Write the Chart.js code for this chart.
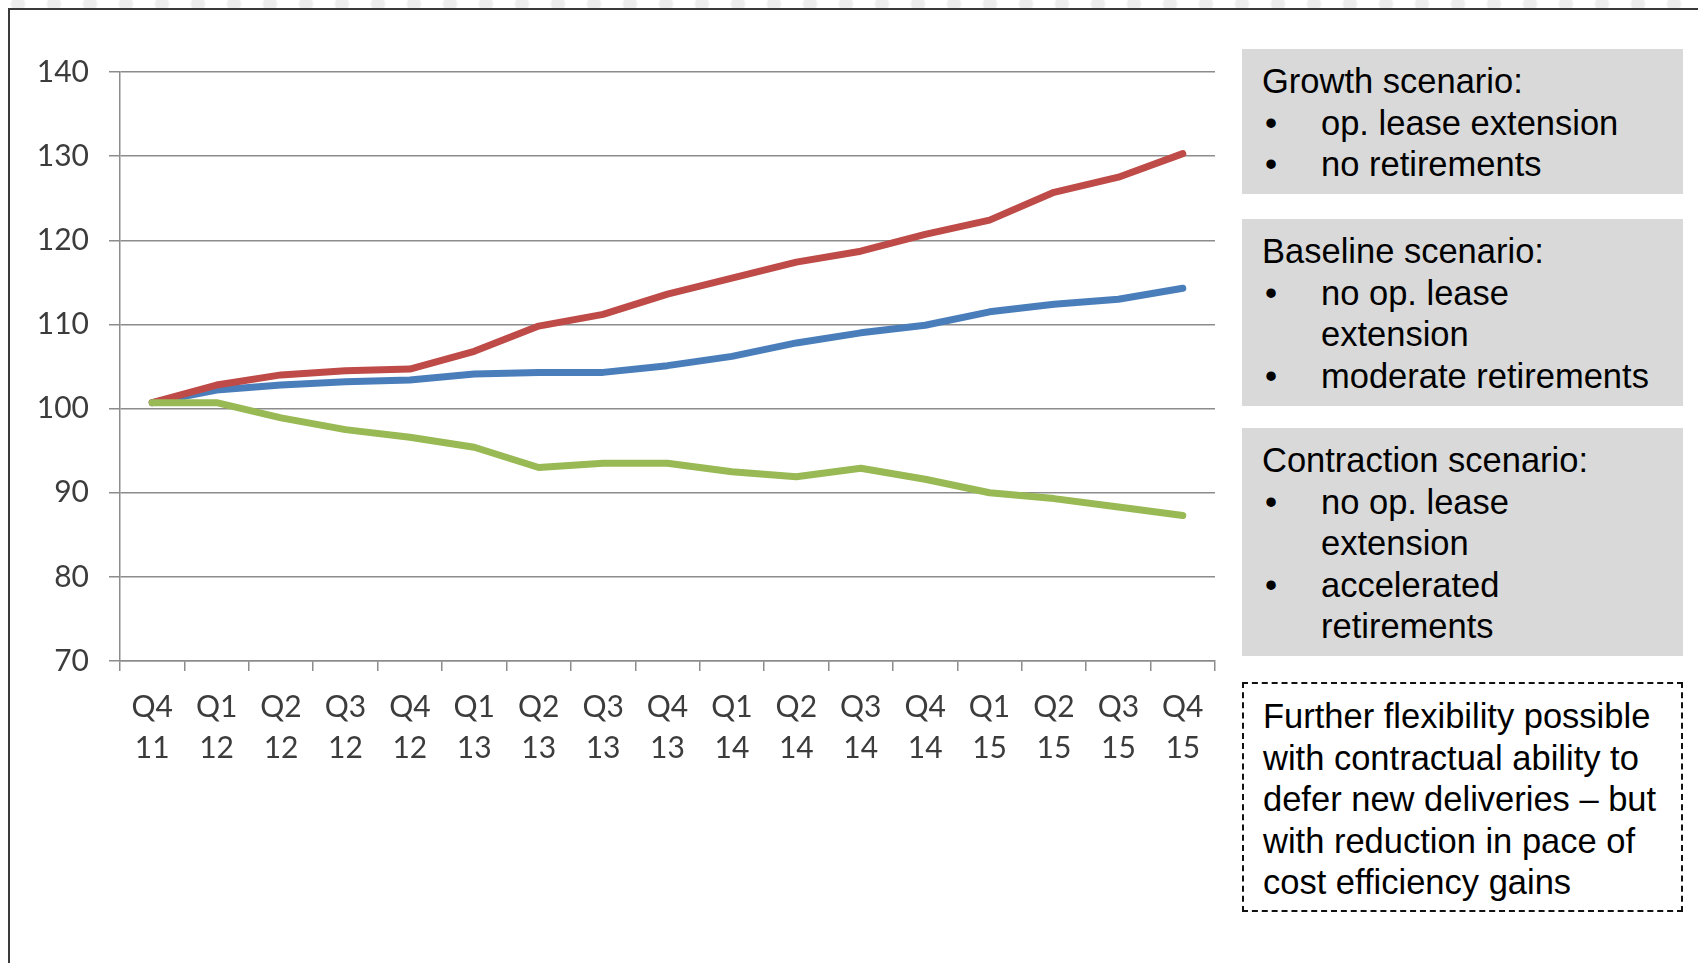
<!DOCTYPE html>
<html>
<head>
<meta charset="utf-8">
<script src="https://cdn.jsdelivr.net/npm/chart.js@4.4.1/dist/chart.umd.min.js"></script>
<style>
  html, body { margin: 0; padding: 0; }
  body {
    width: 1698px; height: 963px; position: relative; overflow: hidden;
    background-color: #fff;
    background-image: radial-gradient(circle at 50% 50%, #ededed 0, #ededed 6px, rgba(255,255,255,0) 8px);
    background-size: 36px 36px;
    background-position: 0 -14px;
    font-family: "Liberation Sans", Arial, sans-serif;
  }
  #frame {
    position: absolute; left: 8px; top: 8px; right: -10px; bottom: -10px;
    border-left: 2px solid #3a3a3a; border-top: 2px solid #3a3a3a;
    background: #fff;
  }
  #chartWrap { position: absolute; left: 0; top: 0; width: 1240px; height: 800px; }
  .box {
    position: absolute; left: 1242px; width: 441px; box-sizing: border-box;
    background: #d9d9d9; color: #000;
    font-size: 34.5px; line-height: 41.5px;
    padding: 12px 26px 0 20px;
  }
  .box .li { position: relative; padding-left: 59px; }
  .box .li::before { content: "\2022"; position: absolute; left: 3px; top: 0; }
  #note {
    position: absolute; left: 1242px; top: 682px; width: 441px; height: 230px;
    box-sizing: border-box; border: 2px dashed #111; background: #fff;
    font-size: 34.5px; line-height: 41.5px; padding: 12px 0 0 19px; color: #000;
  }
</style>
</head>
<body>
<div id="frame"></div>
<div id="chartWrap"><canvas id="c"></canvas></div>

<div class="box" style="top:49px;height:145px;">
  <div>Growth scenario:</div>
  <div class="li">op. lease extension</div>
  <div class="li">no retirements</div>
</div>
<div class="box" style="top:219px;height:187px;">
  <div>Baseline scenario:</div>
  <div class="li">no op. lease extension</div>
  <div class="li">moderate retirements</div>
</div>
<div class="box" style="top:428px;height:228px;">
  <div>Contraction scenario:</div>
  <div class="li">no op. lease extension</div>
  <div class="li">accelerated retirements</div>
</div>
<div id="note">Further flexibility possible with contractual ability to defer new deliveries – but with reduction in pace of cost efficiency gains</div>

<script>
// ---- data ----
const quarters = ["Q4","Q1","Q2","Q3","Q4","Q1","Q2","Q3","Q4","Q1","Q2","Q3","Q4","Q1","Q2","Q3","Q4"];
const years    = ["11","12","12","12","12","13","13","13","13","14","14","14","14","15","15","15","15"];
const growth      = [100.7, 102.8, 104.0, 104.5, 104.7, 106.8, 109.8, 111.2, 113.6, 115.5, 117.4, 118.7, 120.7, 122.4, 125.7, 127.5, 130.3];
const baseline    = [100.7, 102.2, 102.8, 103.2, 103.4, 104.1, 104.3, 104.3, 105.1, 106.2, 107.8, 109.0, 109.9, 111.5, 112.4, 113.0, 114.3];
const contraction = [100.7, 100.7, 98.9, 97.5, 96.6, 95.4, 93.0, 93.5, 93.5, 92.5, 91.9, 92.9, 91.6, 90.0, 89.3, 88.3, 87.3];
const yMin = 70, yMax = 140, yStep = 10;

const labels = quarters.map((q, i) => [q, years[i]]);
const axisFont = { family: "Lato, 'Open Sans', sans-serif", size: 30 };
const gridColor = "#8c8c8c";

function lineDs(label, data, color, order) {
  return {
    label, data, borderColor: color, backgroundColor: color,
    borderWidth: 7, pointRadius: 0, pointHoverRadius: 0, tension: 0,
    borderJoinStyle: "round", borderCapStyle: "round", fill: false, order
  };
}

new Chart(document.getElementById("c"), {
  type: "line",
  data: {
    labels,
    datasets: [
      lineDs("Baseline scenario", baseline, "#4a7ebb", 2),
      lineDs("Growth scenario", growth, "#be4b48", 1),
      lineDs("Contraction scenario", contraction, "#98b954", 0)
    ]
  },
  options: {
    responsive: true, maintainAspectRatio: false, animation: false,
    events: [],
    layout: { padding: { top: 72, left: 0, right: 25, bottom: 0 } },
    plugins: { legend: { display: false }, tooltip: { enabled: false } },
    scales: {
      x: {
        type: "category", offset: true,
        grid: { offset: true, drawOnChartArea: false, drawTicks: true, tickLength: 10, color: gridColor, lineWidth: 1.5 },
        border: { display: true, color: gridColor, width: 1.5 },
        ticks: { font: { ...axisFont, lineHeight: 1.37 }, color: "#3c3c3c", padding: 15.5, maxRotation: 0, autoSkip: false },
        afterFit: s => { s.height = 139; }
      },
      y: {
        min: yMin, max: yMax,
        grid: { color: gridColor, lineWidth: 1.5, tickLength: 11, drawTicks: true },
        border: { display: true, color: gridColor, width: 1.5 },
        ticks: { stepSize: yStep, font: axisFont, color: "#3c3c3c", padding: 20 },
        afterFit: s => { s.width = 120; }
      }
    }
  }
});
</script>
</body>
</html>
